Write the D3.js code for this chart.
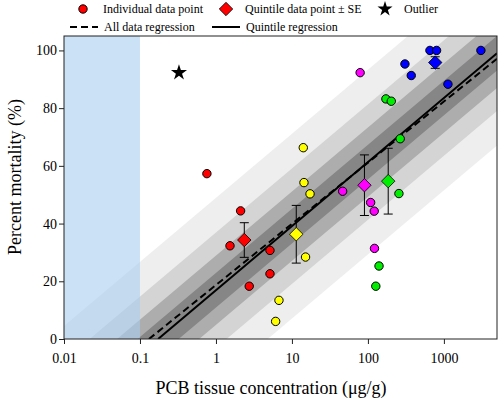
<!DOCTYPE html>
<html>
<head>
<meta charset="utf-8">
<script src="https://cdn.jsdelivr.net/npm/d3@7/dist/d3.min.js"></script>
<style>
  body { margin: 0; background: #fff; }
  svg { font-family: "Liberation Serif", "Times New Roman", serif; }
</style>
</head>
<body>
<svg id="chart" width="500" height="399"></svg>
<script>
'use strict';

// data
const xTicks = [0.01, 0.1, 1, 10, 100, 1000];
const yTicks = [0, 20, 40, 60, 80, 100];

const quintileNames = ['Q1', 'Q2', 'Q3', 'Q4', 'Q5'];
const quintileColors = ['#ff0000', '#ffff00', '#ff00ff', '#00ee00', '#0000ff'];

const q1Conc = [0.76, 2.11, 1.53, 5.14, 5.14, 2.74];
const q1Mort = [57.3, 44.4, 32.3, 30.7, 22.6, 18.3];
const q2Conc = [14.1, 14.4, 17.3, 15.1, 6.75, 6.1];
const q2Mort = [66.3, 54.2, 50.3, 28.4, 13.4, 6.1];
const q3Conc = [79, 46.5, 108.6, 121, 122];
const q3Mort = [92.3, 51.2, 47.3, 44.3, 31.4];
const q4Conc = [172.5, 203, 266, 256, 140, 127];
const q4Mort = [83.2, 82.4, 69.4, 50.4, 25.3, 18.3];
const q5Conc = [655, 801, 3070, 307, 372, 1130];
const q5Mort = [100, 100, 100, 95.3, 91.3, 88.3];

const quintileConc = [2.36, 11.4, 90, 185, 769];
const quintileMort = [34.3, 36.3, 53.3, 54.7, 95.8];
const quintileSE = [6, 10, 10.5, 11.4, 2];

const outlierConc = [0.326];
const outlierMort = [92.3];

// regressions: mortality = a + b * log10(conc)
const allDataFit = [18.7, 21.2];
const quintileFit = [16.9, 22.2];
const bandOffsets = [32, 20, 12, 6];
const bandShades = ['#eeeeee', '#d4d4d4', '#adadad', '#868686'];

const pointConc = [q1Conc, q2Conc, q3Conc, q4Conc, q5Conc];
const pointMort = [q1Mort, q2Mort, q3Mort, q4Mort, q5Mort];

const m = { left: 64, right: 497, top: 36, bottom: 339 };
const xDomain = [0.01, 5000];

const svg = d3.select('#chart');
const x = d3.scaleLog().domain(xDomain).range([m.left, m.right]);
const y = d3.scaleLinear().domain([0, 105]).range([m.bottom, m.top]);

const fitAt = (fit, c) => fit[0] + fit[1] * Math.log10(c);

svg.append('defs').append('clipPath').attr('id', 'plot-clip')
  .append('rect')
  .attr('x', m.left).attr('y', m.top)
  .attr('width', m.right - m.left).attr('height', m.bottom - m.top);

const plot = svg.append('g').attr('clip-path', 'url(#plot-clip)');

// prediction bands around the quintile regression
bandOffsets.forEach((off, i) => {
  const pts = [
    [xDomain[0], fitAt(quintileFit, xDomain[0]) + off],
    [xDomain[1], fitAt(quintileFit, xDomain[1]) + off],
    [xDomain[1], fitAt(quintileFit, xDomain[1]) - off],
    [xDomain[0], fitAt(quintileFit, xDomain[0]) - off]
  ];
  plot.append('path')
    .attr('d', 'M' + pts.map(p => `${x(p[0])},${y(p[1])}`).join('L') + 'Z')
    .attr('fill', bandShades[i]);
});

// shaded region below 0.1 ug/g
plot.append('rect')
  .attr('x', x(0.01)).attr('y', m.top)
  .attr('width', x(0.1) - x(0.01)).attr('height', m.bottom - m.top)
  .attr('fill', '#a9cdef')
  .attr('fill-opacity', 0.6);

const fitLine = fit => {
  const start = Math.pow(10, -fit[0] / fit[1]);
  return d3.line()
    .x(d => x(d))
    .y(d => y(fitAt(fit, d)))([start, xDomain[1]]);
};

plot.append('path')
  .attr('d', fitLine(allDataFit))
  .attr('fill', 'none')
  .attr('stroke', '#000')
  .attr('stroke-width', 2)
  .attr('stroke-dasharray', '7,4');

plot.append('path')
  .attr('d', fitLine(quintileFit))
  .attr('fill', 'none')
  .attr('stroke', '#000')
  .attr('stroke-width', 2);

// individual points
quintileNames.forEach((name, qi) => {
  plot.append('g').selectAll('circle')
    .data(pointConc[qi].map((c, i) => [c, pointMort[qi][i]]))
    .join('circle')
    .attr('cx', d => x(d[0]))
    .attr('cy', d => y(d[1]))
    .attr('r', 4.2)
    .attr('fill', quintileColors[qi])
    .attr('stroke', '#000')
    .attr('stroke-width', 1);
});

// quintile means with SE bars
const diamond = d3.symbol().type(d3.symbolDiamond2).size(115);
quintileConc.forEach((c, i) => {
  const g = plot.append('g');
  const cx = x(c);
  const hi = y(quintileMort[i] + quintileSE[i]);
  const lo = y(quintileMort[i] - quintileSE[i]);
  g.append('line')
    .attr('x1', cx).attr('x2', cx).attr('y1', hi).attr('y2', lo)
    .attr('stroke', '#000').attr('stroke-width', 1);
  [hi, lo].forEach(v => {
    g.append('line')
      .attr('x1', cx - 4.5).attr('x2', cx + 4.5).attr('y1', v).attr('y2', v)
      .attr('stroke', '#000').attr('stroke-width', 1);
  });
  g.append('path')
    .attr('d', diamond())
    .attr('transform', `translate(${cx},${y(quintileMort[i])})`)
    .attr('fill', quintileColors[i])
    .attr('stroke', '#000')
    .attr('stroke-width', 0.8);
});

// outlier
plot.selectAll('.outlier')
  .data(outlierConc.map((c, i) => [c, outlierMort[i]]))
  .join('path')
  .attr('class', 'outlier')
  .attr('d', d3.symbol().type(d3.symbolStar).size(80)())
  .attr('transform', d => `translate(${x(d[0])},${y(d[1])})`)
  .attr('fill', '#000');

// frame
svg.append('rect')
  .attr('x', m.left).attr('y', m.top)
  .attr('width', m.right - m.left).attr('height', m.bottom - m.top)
  .attr('fill', 'none')
  .attr('stroke', '#222')
  .attr('stroke-width', 1);

// axes
const xAxis = svg.append('g')
  .attr('transform', `translate(0,${m.bottom})`)
  .call(d3.axisBottom(x).tickValues(xTicks).tickFormat(d3.format('~g')).tickSize(5).tickSizeOuter(0));
const yAxis = svg.append('g')
  .attr('transform', `translate(${m.left},0)`)
  .call(d3.axisLeft(y).tickValues(yTicks).tickSize(5).tickSizeOuter(0));

[xAxis, yAxis].forEach(a => {
  a.select('.domain').remove();
  a.selectAll('text')
    .attr('font-family', '"Liberation Serif", "Times New Roman", serif')
    .attr('font-size', 14)
    .attr('fill', '#000');
  a.selectAll('line').attr('stroke', '#222');
});
xAxis.selectAll('text').attr('dy', '1.15em');
yAxis.selectAll('text').attr('x', -7);

svg.append('text')
  .attr('x', 271).attr('y', 394)
  .attr('text-anchor', 'middle')
  .attr('font-size', 18)
  .text('PCB tissue concentration (μg/g)');

svg.append('text')
  .attr('transform', 'translate(21,177) rotate(-90)')
  .attr('text-anchor', 'middle')
  .attr('font-size', 18)
  .text('Percent mortality (%)');

// legend
const legend = svg.append('g').attr('font-size', 12);
legend.append('circle')
  .attr('cx', 83).attr('cy', 9).attr('r', 4.2)
  .attr('fill', quintileColors[0]).attr('stroke', '#000').attr('stroke-width', 1);
legend.append('text').attr('x', 103).attr('y', 13).text('Individual data point');
legend.append('path')
  .attr('d', diamond())
  .attr('transform', 'translate(226,9)')
  .attr('fill', quintileColors[0]).attr('stroke', '#000').attr('stroke-width', 0.8);
legend.append('text').attr('x', 245).attr('y', 13).text('Quintile data point ± SE');
legend.append('path')
  .attr('d', d3.symbol().type(d3.symbolStar).size(70)())
  .attr('transform', 'translate(385,9)')
  .attr('fill', '#000');
legend.append('text').attr('x', 404).attr('y', 13).text('Outlier');

legend.append('line')
  .attr('x1', 70).attr('x2', 98).attr('y1', 27).attr('y2', 27)
  .attr('stroke', '#000').attr('stroke-width', 2).attr('stroke-dasharray', '7,4');
legend.append('text').attr('x', 104).attr('y', 31).text('All data regression');
legend.append('line')
  .attr('x1', 212).attr('x2', 240).attr('y1', 27).attr('y2', 27)
  .attr('stroke', '#000').attr('stroke-width', 2);
legend.append('text').attr('x', 246).attr('y', 31).text('Quintile regression');
</script>
</body>
</html>
